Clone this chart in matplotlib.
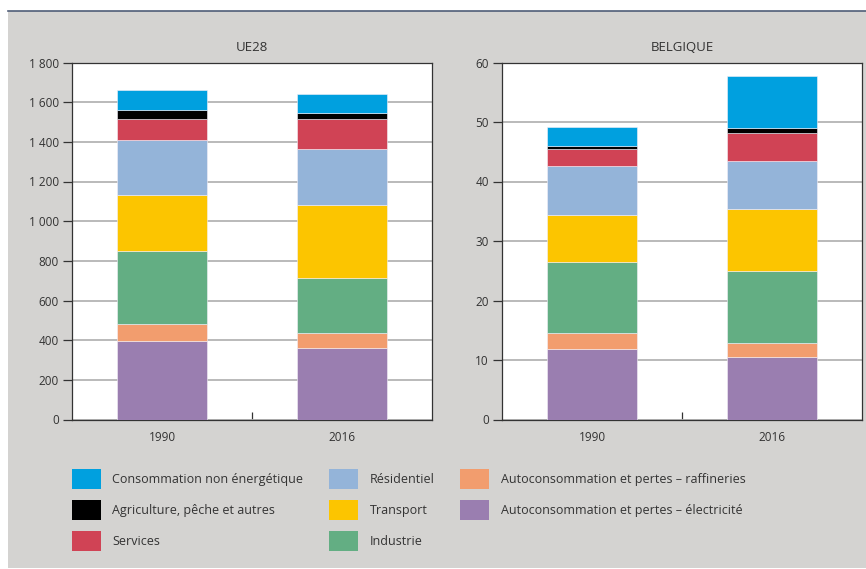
import numpy as np
import matplotlib
matplotlib.use('Agg')
import matplotlib.pyplot as plt
from matplotlib.patches import Rectangle
from matplotlib.lines import Line2D
from matplotlib.ticker import FuncFormatter

plt.rcParams['font.family'] = ['Open Sans', 'DejaVu Sans']

# data (Mtep), bottom -> top
years = ['1990', '2016']
categories = ['Autoconsommation et pertes – électricité',
              'Autoconsommation et pertes – raffineries',
              'Industrie', 'Transport', 'Résidentiel', 'Services',
              'Agriculture, pêche et autres', 'Consommation non énergétique']
colors = ['#9a7eb0', '#f29d6e', '#63ae83', '#fcc500', '#94b4d9',
          '#d04355', '#000000', '#00a0df']

ue28_1990 = [397, 83, 369, 283, 275, 108, 48, 100]
ue28_2016 = [362, 75, 274, 370, 283, 150, 29, 100]
be_1990 = [11.9, 2.6, 12.0, 7.9, 8.2, 2.9, 0.5, 3.1]
be_2016 = [10.5, 2.3, 12.1, 10.5, 8.1, 4.7, 0.8, 8.7]

ue28_ticks = [0, 200, 400, 600, 800, 1000, 1200, 1400, 1600, 1800]
be_ticks = [0, 10, 20, 30, 40, 50, 60]

legend_order = [7, 6, 5, 4, 3, 2, 1, 0]

txt = '#333333'
bg = '#d4d3d1'

fig = plt.figure(figsize=(8.66, 5.69), dpi=100, facecolor='white')
fig.patches.append(Rectangle((8/866, 0.001), 1, 1 - 11/569 - 0.001, transform=fig.transFigure,
                             facecolor=bg, edgecolor='none', zorder=-10))
fig.lines.append(Line2D([8/866, 1], [1 - 10.5/569, 1 - 10.5/569], transform=fig.transFigure,
                        color='#4f5d78', linewidth=1.2))


def thousands(v, pos):
    return '{:,.0f}'.format(v).replace(',', ' ')


def draw(ax, title, v1990, v2016, ticks):
    data = np.array([v1990, v2016]).T
    x = np.arange(len(years))
    bottom = np.zeros(len(years))
    for i in range(len(categories)):
        ax.bar(x, data[i], 0.5, bottom=bottom, color=colors[i],
               edgecolor='#f4f0f8', linewidth=0.4, zorder=3, label=categories[i])
        bottom += data[i]
    ax.set_xlim(-0.5, 1.5)
    ax.set_ylim(ticks[0], ticks[-1])
    ax.set_yticks(ticks)
    ax.yaxis.set_major_formatter(FuncFormatter(thousands))
    ax.set_xticks(x)
    ax.set_xticklabels(years)
    ax.set_xticks([0.5], minor=True)
    ax.tick_params(axis='x', which='major', length=0, pad=8, labelsize=8.5, labelcolor=txt)
    ax.tick_params(axis='x', which='minor', direction='in', length=5.5, width=0.9, color='#333333')
    ax.tick_params(axis='y', length=6.5, width=0.9, pad=3, labelsize=8.5, labelcolor=txt, color='#333333')
    ax.grid(axis='y', color='#b4b4b4', linewidth=1.3, zorder=0)
    for s in ax.spines.values():
        s.set_color('#333333')
        s.set_linewidth(0.9)
    ax.set_title(title, fontsize=9.5, color=txt, pad=8)
    ax.set_facecolor('white')


ax1 = fig.add_axes([72/866, 1 - 419.5/569, 360/866, 357/569])
ax2 = fig.add_axes([502/866, 1 - 419.5/569, 360/866, 357/569])
draw(ax1, 'UE28', ue28_1990, ue28_2016, ue28_ticks)
draw(ax2, 'BELGIQUE', be_1990, be_2016, be_ticks)

handles, labels = ax1.get_legend_handles_labels()
handles = [handles[i] for i in legend_order]
labels = [labels[i] for i in legend_order]
leg = fig.legend(handles, labels, ncol=3, loc='upper left',
                 bbox_to_anchor=(72/866, 1 - 469/569), bbox_transform=fig.transFigure,
                 frameon=False, fontsize=9, labelcolor=txt,
                 handlelength=2.32, handleheight=2.08, handletextpad=0.9,
                 columnspacing=2.08, labelspacing=0.88, borderaxespad=0, borderpad=0)
for h in leg.legend_handles:
    h.set_linewidth(0)

fig.savefig('out.png', dpi=100, facecolor=fig.get_facecolor())
